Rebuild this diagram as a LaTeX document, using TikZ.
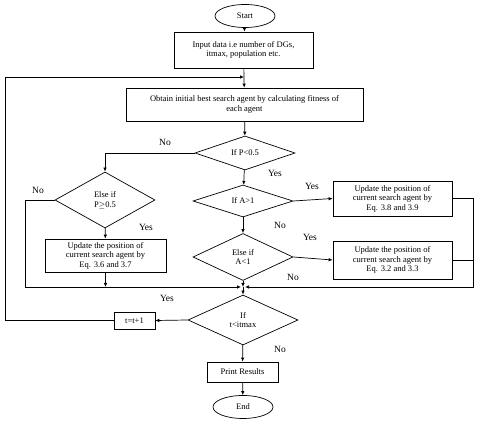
\documentclass[tikz,border=0pt]{standalone}
\usepackage{fontspec}
\setmainfont{Liberation Serif}
\usetikzlibrary{arrows.meta, shapes.geometric, positioning}
\tikzset{
  term/.style={draw, ellipse, minimum width=60pt, minimum height=23pt, inner sep=0pt},
  procbox/.style={draw, rectangle, align=center, inner sep=1pt, font=\fontsize{8.5}{9.5}\selectfont},
  decide/.style={draw, diamond, align=center, inner sep=0pt, font=\fontsize{8.5}{9.5}\selectfont},
  lbl/.style={font=\fontsize{9.5}{10}\selectfont}
}

\begin{document}
\begin{tikzpicture}[x=1pt,y=-1pt,line width=0.7pt,>={Latex[length=4pt,width=3.5pt]},font=\fontsize{8.5}{9.5}\selectfont]
\useasboundingbox (0,0) rectangle (499,443);
% main column
\node[term] (start) at (245,16) {Start};
\node[procbox, minimum width=139pt, minimum height=36pt] (input) at (243.5,50) {Input data i.e number of DGs,\\ itmax, population etc.};
\node[procbox, minimum width=237pt, minimum height=33pt] (obtain) at (244.5,104.5) {Obtain initial best search agent by calculating fitness of\\ each agent};
\node[decide, minimum width=100pt, minimum height=32pt] (dp) at (245,153) {If P<0.5};
\node[decide, minimum width=100pt, minimum height=32pt] (da1) at (243,201) {If A>1};
\node[decide, minimum width=100pt, minimum height=47pt] (da2) at (243,257) {Else if\\ A<1};
\node[decide, minimum width=110pt, minimum height=50pt] (dt) at (243,320) {If\\ t<itmax};
\node[procbox, minimum width=71pt, minimum height=20pt] (print) at (242.5,372) {Print Results};
\node[term] (stop) at (243,407) {End};
% left branch
\node[decide, minimum width=100pt, minimum height=56pt] (dp2) at (105,200) {Else if\\ P$\geq$0.5};
\node[procbox, minimum width=121pt, minimum height=33pt] (upl) at (105.5,255.5) {Update the position of\\ current search agent by\\ Eq. 3.6 and 3.7};
\node[procbox, minimum width=41pt, minimum height=17pt] (tinc) at (134.5,320.5) {t=t+1};
% right branch
\node[procbox, minimum width=119pt, minimum height=35pt] (up1) at (392.5,198.5) {Update the position of\\ current search agent by\\ Eq. 3.8 and 3.9};
\node[procbox, minimum width=119pt, minimum height=38pt] (up2) at (392.5,260) {Update the position of\\ current search agent by\\ Eq. 3.2 and 3.3};
% joins
\coordinate (jn) at (244,77);
\coordinate (mg) at (243,287);

\draw[->] (start) -- (input);
\draw[->] (input) -- (obtain);
\draw[->] (obtain) -- (dp);
\draw[->] (dp.west) -| (dp2.north);
\draw[->] (dp) -- (da1);
\draw[->] (da1) -- (da2);
\draw[->] (da1.east) -- (up1.west);
\draw[->] (da2.east) -- (up2.west);
\draw[->] (da2) -- (mg);
\draw[->] (dp2) -- (upl);
\draw[->,shorten >=2pt] (dp2.west) -- (25,200) |- (mg);
\draw[->] (upl.south) -- (upl.south |- mg);
\draw[->,shorten >=2pt] (up1.east) -- (473,198.5) |- (mg);
\draw (up2.east) -- (473,260);
\draw[->] (mg) -- (dt.north);
\draw[->] (dt.west) -- (tinc.east);
\draw[->] (tinc.west) -- (5,320.5) |- (jn);
\draw[->] (dt) -- (print);
\draw[->] (print) -- (stop);

% labels
\node[lbl] at (165,142) {No};
\node[lbl] at (38,190) {No};
\node[lbl] at (146,227) {Yes};
\node[lbl] at (275,173) {Yes};
\node[lbl] at (312,186) {Yes};
\node[lbl] at (280,225) {No};
\node[lbl] at (310,237) {Yes};
\node[lbl] at (293,277) {No};
\node[lbl] at (167,298) {Yes};
\node[lbl] at (280,349) {No};
\end{tikzpicture}
\end{document}
